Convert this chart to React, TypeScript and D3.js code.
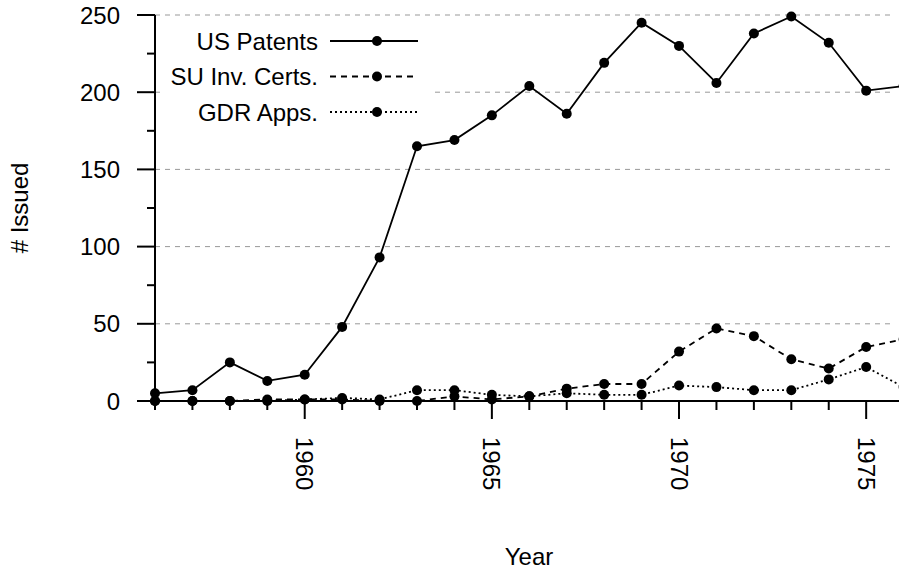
import React from "react";
import * as d3 from "d3";

const years = [1956,1957,1958,1959,1960,1961,1962,1963,1964,1965,1966,1967,1968,1969,1970,1971,1972,1973,1974,1975,1976];
const usPatents = [5,7,25,13,17,48,93,165,169,185,204,186,219,245,230,206,238,249,232,201,204];
const suCerts = [0,0,0,1,1,1,0,0,3,1,3,8,11,11,32,47,42,27,21,35,40];
const gdrApps = [0,0,0,0,1,2,1,7,7,4,3,5,4,4,10,9,7,7,14,22,9];
const seriesNames = ["US Patents", "SU Inv. Certs.", "GDR Apps."];
const seriesDash = ["none", "6,5", "2,3"];
const yTicks = [0, 50, 100, 150, 200, 250];
const yMinorTicks = [25, 75, 125, 175, 225];
const xLabelTicks = [1960, 1965, 1970, 1975];

const W = 899, H = 569;
const FONT = "'Liberation Sans', Arial, Helvetica, sans-serif";
const FS = 24;

export default function App() {
  const x = d3.scaleLinear().domain([1956, 1976]).range([155, 903.6]);
  const y = d3.scaleLinear().domain([0, 250]).range([401, 15]);
  const series = [usPatents, suCerts, gdrApps];
  const line = d3.line<number>().x((_, i) => x(years[i])).y((d) => y(d));
  const x0 = x(1956);
  const y0 = y(0);

  return (
    <svg width={W} height={H} style={{ position: "absolute", left: 0, top: 0, background: "#fff" }} fontFamily={FONT}>
      {/* grid */}
      {yTicks.filter((t) => t > 0).map((t) => (
        <line key={"g" + t} x1={x0} x2={892} y1={y(t)} y2={y(t)} stroke="#999" strokeWidth={1} strokeDasharray="5,5" />
      ))}
      {/* series */}
      <g>
        {series.map((s, si) => (
          <g key={"s" + si}>
            <path d={line(s) || ""} fill="none" stroke="#000" strokeWidth={1.8} strokeDasharray={seriesDash[si]} />
            {s.map((v, i) => (
              <circle key={i} cx={x(years[i])} cy={y(v)} r={5} fill="#000" />
            ))}
          </g>
        ))}
      </g>
      {/* legend */}
      <rect x={160} y={22} width={275} height={106} fill="#fff" />
      {seriesNames.map((n, i) => {
        const ly = 41 + i * 35.5;
        return (
          <g key={"l" + i}>
            <text x={318} y={ly} textAnchor="end" dominantBaseline="central" fontSize={FS}>{n}</text>
            <line x1={330} x2={418} y1={ly} y2={ly} stroke="#000" strokeWidth={1.8} strokeDasharray={seriesDash[i]} />
            <circle cx={377} cy={ly} r={5} fill="#000" />
          </g>
        );
      })}
      {/* axes */}
      <line x1={x0} x2={x0} y1={y(250)} y2={y0} stroke="#000" strokeWidth={2} />
      <line x1={x0} x2={W} y1={y0} y2={y0} stroke="#000" strokeWidth={2} />
      {yTicks.map((t) => (
        <g key={"yt" + t}>
          <line x1={x0 - 18} x2={x0} y1={y(t)} y2={y(t)} stroke="#000" strokeWidth={2} />
          <text x={120} y={y(t)} textAnchor="end" dominantBaseline="central" fontSize={FS}>{t}</text>
        </g>
      ))}
      {yMinorTicks.map((t) => (
        <line key={"ym" + t} x1={x0 - 8} x2={x0} y1={y(t)} y2={y(t)} stroke="#000" strokeWidth={2} />
      ))}
      {years.map((yr) => {
        const major = xLabelTicks.includes(yr);
        return (
          <line key={"xt" + yr} x1={x(yr)} x2={x(yr)} y1={y0} y2={y0 + (major ? 18 : 9)} stroke="#000" strokeWidth={2} />
        );
      })}
      {xLabelTicks.map((yr) => (
        <text key={"xl" + yr} transform={`translate(${x(yr)},437) rotate(90)`} textAnchor="start" dominantBaseline="central" fontSize={FS}>{yr}</text>
      ))}
      <text x={529} y={565} textAnchor="middle" fontSize={FS}>Year</text>
      <text transform={`translate(19,208) rotate(-90)`} textAnchor="middle" dominantBaseline="central" fontSize={FS}># Issued</text>
    </svg>
  );
}
